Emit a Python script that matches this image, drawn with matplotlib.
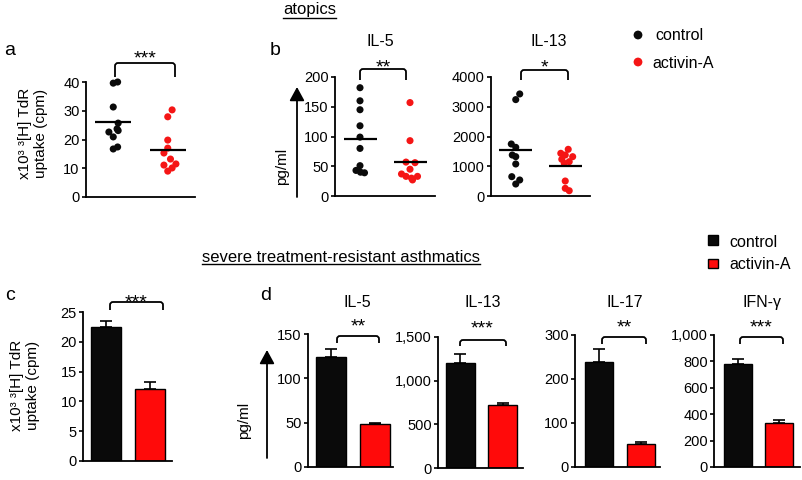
import numpy as np
import matplotlib
matplotlib.use("Agg")
import matplotlib.pyplot as plt
from matplotlib.path import Path
from matplotlib.patches import PathPatch, Rectangle
from matplotlib.ticker import FuncFormatter

plt.rcParams['font.family'] = ['Liberation Sans', 'DejaVu Sans']

W, H = 802, 480

groups = ["control", "activin-A"]

# atopics: individual donors
prolif_ctrl = [39.6, 40.0, 31.3, 25.7, 23.7, 22.6, 20.9, 23.1, 16.7, 17.4]
prolif_act = [30.3, 27.9, 19.8, 17.0, 15.3, 13.2, 11.1, 11.5, 10.1, 9.0]
il5_ctrl = [182, 160, 145, 118, 99, 80, 51, 43, 40, 39]
il5_act = [157, 93, 57, 56, 45, 37, 33, 30, 33, 27]
il13_ctrl = [3430, 3240, 1748, 1636, 1378, 1322, 1076, 650, 538, 403]
il13_act = [1569, 1435, 1378, 1322, 1233, 1154, 1098, 504, 258, 178]

# severe treatment-resistant asthmatics: mean and sem
sev_prolif = [22.5, 12.1]
sev_prolif_err = [1.0, 1.1]
sev_il5 = [124, 48]
sev_il5_err = [9, 1.5]
sev_il13 = [1205, 725]
sev_il13_err = [100, 25]
sev_il17 = [238, 52]
sev_il17_err = [31, 5]
sev_ifng = [780, 330]
sev_ifng_err = [38, 25]

# horizontal spread of the dots (layout only)
jit_prolif = ([0, .08, 0, .09, .07, -.08, 0, .09, 0, .08],
              [.08, 0, 0, 0, -.07, .05, -.07, .15, .08, 0])
jit_il5 = ([0, 0, 0, 0, 0, 0, 0, -.08, .01, .09],
           [0, 0, -.08, .1, 0, -.17, -.08, .03, .15, .05])
jit_il13 = ([.08, 0, -.09, 0, -.07, 0, 0, -.08, .08, 0],
            [.06, -.09, 0, .15, -.07, .08, -.02, 0, 0, .08])

BLACK = '#0a0a0a'
RED = '#ff0a0a'

fig = plt.figure(figsize=(W / 100, H / 100), dpi=100)


def px_axes(l, t, r, b):
    return fig.add_axes([l / W, 1 - b / H, (r - l) / W, (b - t) / H])


def style(ax, ylim, ticks, xlim, comma=False):
    ax.set_ylim(*ylim)
    ax.set_yticks(ticks)
    ax.set_xlim(*xlim)
    ax.set_xticks([])
    for s in ['top', 'right']:
        ax.spines[s].set_visible(False)
    for s in ['left', 'bottom']:
        ax.spines[s].set_linewidth(1.3)
    ax.tick_params(axis='y', length=3, width=1.2, pad=1.5, labelsize=10.5)
    if comma:
        ax.yaxis.set_major_formatter(FuncFormatter(lambda v, p: f'{v:,.0f}'))
    ax.patch.set_alpha(0)


def dot_panel(rect, ctrl, act, jit, ylim, ticks, half=0.33):
    ax = px_axes(*rect)
    for i, (vals, col) in enumerate([(ctrl, BLACK), (act, '#f51515')]):
        x = i + np.array(jit[i])
        ax.scatter(x, vals, s=26, color=col, edgecolors='none', clip_on=False, zorder=3)
        ax.hlines(np.mean(vals), i - half, i + half, color='black', lw=1.6, zorder=4)
    style(ax, ylim, ticks, (-0.5, 1.5))
    return ax


def bar_panel(rect, vals, errs, ylim, ticks, xlim, comma=False):
    ax = px_axes(*rect)
    ax.bar([0, 1], vals, width=0.68, color=[BLACK, RED], edgecolor='black', lw=1, zorder=2)
    ax.errorbar([0, 1], vals, yerr=[[0, 0], errs], fmt='none', ecolor='black',
                elinewidth=1.2, capsize=4, capthick=1.2, zorder=1)
    style(ax, ylim, ticks, xlim, comma)
    return ax


# ---- atopics ----
dot_panel((86, 82, 195, 197), prolif_ctrl, prolif_act, jit_prolif, (0, 40), [0, 10, 20, 30, 40])
dot_panel((335, 77, 435, 196), il5_ctrl, il5_act, jit_il5, (0, 200), [0, 50, 100, 150, 200])
dot_panel((491, 77, 590, 196), il13_ctrl, il13_act, jit_il13, (0, 4000), [0, 1000, 2000, 3000, 4000])

# ---- severe asthmatics ----
bar_panel((83, 312, 172, 461), sev_prolif, sev_prolif_err, (0, 25), [0, 5, 10, 15, 20, 25], (-0.52, 1.5))
bar_panel((308, 334, 393, 467), sev_il5, sev_il5_err, (0, 150), [0, 50, 100, 150], (-0.52, 1.41))
bar_panel((438, 337, 523, 468), sev_il13, sev_il13_err, (0, 1500), [0, 500, 1000, 1500], (-0.52, 1.48), True)
bar_panel((575, 335, 660, 467), sev_il17, sev_il17_err, (0, 300), [0, 100, 200, 300], (-0.57, 1.45))
bar_panel((714, 335, 800, 467), sev_ifng, sev_ifng_err, (0, 1000), [0, 200, 400, 600, 800, 1000], (-0.57, 1.5), True)

# ---- annotation layer in pixel coordinates ----
ov = fig.add_axes([0, 0, 1, 1])
ov.set_xlim(0, W)
ov.set_ylim(H, 0)
ov.axis('off')
ov.patch.set_alpha(0)


def bracket(x1, x2, top, bot, r=3):
    verts = [(x1, bot), (x1, top + r), (x1, top), (x1 + r, top),
             (x2 - r, top), (x2, top), (x2, top + r), (x2, bot)]
    codes = [Path.MOVETO, Path.LINETO, Path.CURVE3, Path.CURVE3,
             Path.LINETO, Path.CURVE3, Path.CURVE3, Path.LINETO]
    ov.add_patch(PathPatch(Path(verts, codes), fill=False, lw=1.3, ec='black'))


def stars(x, yc, s):
    ov.text(x, yc + 11, s, ha='center', va='baseline', fontsize=14)


# brackets and significance
bracket(115, 175, 63, 77); stars(145, 52, '***')
bracket(360, 406, 69, 80); stars(383, 61, '**')
bracket(521, 568, 70, 80); stars(544, 61, '*')
bracket(110, 163, 302, 310); stars(136, 296, '***')
bracket(337, 379, 336, 343); stars(358, 320, '**')
bracket(460, 506, 340, 346); stars(482, 322, '***')
bracket(602, 646, 337, 344); stars(624, 321, '**')
bracket(740, 783, 337, 344); stars(761, 321, '***')

# titles
for x, y, s in [(380, 46.5, 'IL-5'), (548.5, 46.5, 'IL-13'), (357.5, 307, 'IL-5'),
                (482.5, 307, 'IL-13'), (624.5, 307, 'IL-17'), (762.5, 307, 'IFN-γ')]:
    ov.text(x, y, s, ha='center', va='baseline', fontsize=11.5)

# panel letters
for x, y, s in [(4, 55, 'a'), (270, 55, 'b'), (5, 300, 'c'), (260, 300, 'd')]:
    ov.text(x, y, s, ha='left', va='baseline', fontsize=14)

# y labels
ylab = 'x10³ ³[H] TdR\nuptake (cpm)'
ov.text(33, 133, ylab, rotation=90, ha='center', va='center', fontsize=11, linespacing=1.2)
ov.text(25, 385, ylab, rotation=90, ha='center', va='center', fontsize=11, linespacing=1.2)
ov.text(282, 166, 'pg/ml', rotation=90, ha='center', va='center', fontsize=11)
ov.text(244, 420, 'pg/ml', rotation=90, ha='center', va='center', fontsize=11)

arrow = dict(arrowstyle='-|>,head_length=0.55,head_width=0.3', lw=1.3, color='black',
             mutation_scale=15, shrinkA=0, shrinkB=0)
ov.annotate('', xy=(297, 87), xytext=(297, 197), arrowprops=arrow)
ov.annotate('', xy=(267, 350), xytext=(267, 458), arrowprops=arrow)

# legends
ov.scatter([638], [35], s=40, color=BLACK, edgecolors='none')
ov.scatter([638], [62], s=40, color='#f51515', edgecolors='none')
ov.text(655, 40, groups[0], ha='left', va='baseline', fontsize=11.5)
ov.text(652, 68, groups[1], ha='left', va='baseline', fontsize=11.5)
ov.add_patch(Rectangle((708, 235), 10, 10, fc=BLACK, ec='black', lw=1))
ov.add_patch(Rectangle((708, 259), 10, 9, fc=RED, ec='black', lw=1))
ov.text(729, 247, groups[0], ha='left', va='baseline', fontsize=11.5)
ov.text(729, 269, groups[1], ha='left', va='baseline', fontsize=11.5)

# underlined headings
headings = [ov.text(309.5, 14, 'atopics', ha='center', va='baseline', fontsize=12),
            ov.text(341, 261.5, 'severe treatment-resistant asthmatics', ha='center', va='baseline', fontsize=12)]
fig.canvas.draw()
inv = ov.transData.inverted()
for t, uy in zip(headings, [17.5, 264]):
    bb = t.get_window_extent()
    (x0, _), (x1, _) = inv.transform([(bb.x0, bb.y0), (bb.x1, bb.y1)])
    ov.plot([x0, x1], [uy, uy], color='black', lw=1)

fig.savefig('out.png', dpi=100)
